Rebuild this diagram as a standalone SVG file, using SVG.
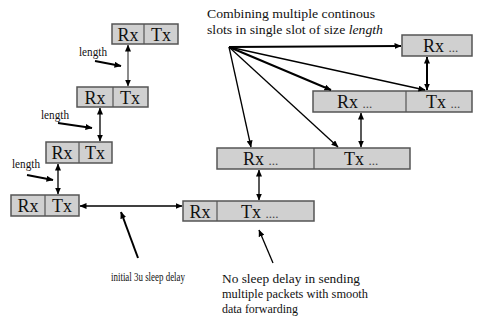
<svg xmlns="http://www.w3.org/2000/svg" width="478" height="320" viewBox="0 0 478 320">
<defs>
<marker id="ah" markerWidth="7" markerHeight="6" refX="6.5" refY="3" orient="auto-start-reverse" markerUnits="userSpaceOnUse"><path d="M0,0 L7,3 L0,6 Z" fill="#000"/></marker>
<style>
.box{fill:#d0d0d0;stroke:#555;stroke-width:1.5}
.div{stroke:#555;stroke-width:1.2}
.bt{font-family:"Liberation Serif",serif;font-size:18px;fill:#111}
.dots{font-size:13px;fill:#444}
.lbl{font-family:"Liberation Serif",serif;font-size:13px;fill:#111}
.c{stroke:#000;stroke-width:1.3;fill:none}
.cb{stroke:#000;stroke-width:2;fill:none}
.cg{stroke:#666;stroke-width:1.5;fill:none}
</style>
</defs>
<rect width="478" height="320" fill="#fff"/>
<g id="box1"><rect class="box" x="112" y="24" width="66" height="20"/><line class="div" x1="144" y1="24" x2="144" y2="44"/><text class="bt" x="128" y="41" text-anchor="middle">Rx</text><text class="bt" x="161" y="41" text-anchor="middle">Tx</text></g>
<g id="box2"><rect class="box" x="77" y="87" width="71" height="20"/><line class="div" x1="113" y1="87" x2="113" y2="107"/><text class="bt" x="95" y="104" text-anchor="middle">Rx</text><text class="bt" x="130" y="104" text-anchor="middle">Tx</text></g>
<g id="box3"><rect class="box" x="46" y="142" width="66" height="21"/><line class="div" x1="79" y1="142" x2="79" y2="163"/><text class="bt" x="62" y="159" text-anchor="middle">Rx</text><text class="bt" x="95" y="159" text-anchor="middle">Tx</text></g>
<g id="box4"><rect class="box" x="11" y="195" width="68" height="21"/><line class="div" x1="45" y1="195" x2="45" y2="216"/><text class="bt" x="28" y="212" text-anchor="middle">Rx</text><text class="bt" x="62" y="212" text-anchor="middle">Tx</text></g>
<g id="box5"><rect class="box" x="183" y="201" width="131" height="20"/><line class="div" x1="217" y1="201" x2="217" y2="221"/><text class="bt" x="200" y="218" text-anchor="middle">Rx</text><text class="bt" x="241" y="218">Tx <tspan class="dots">....</tspan></text></g>
<g id="box6"><rect class="box" x="217" y="148" width="193" height="21"/><line class="div" x1="314" y1="148" x2="314" y2="169"/><text class="bt" x="243" y="165">Rx <tspan class="dots">...</tspan></text><text class="bt" x="344" y="165">Tx <tspan class="dots">...</tspan></text></g>
<g id="box7"><rect class="box" x="313" y="91" width="159" height="21"/><line class="div" x1="406" y1="91" x2="406" y2="112"/><text class="bt" x="337" y="108">Rx <tspan class="dots">...</tspan></text><text class="bt" x="426" y="108">Tx <tspan class="dots">...</tspan></text></g>
<g id="box8"><rect class="box" x="402" y="35" width="70" height="21"/><text class="bt" x="423" y="52">Rx <tspan class="dots">...</tspan></text></g>
<g id="labels">
<text class="lbl" x="79" y="56" textLength="28" lengthAdjust="spacingAndGlyphs">length</text>
<text class="lbl" x="41" y="119" textLength="28" lengthAdjust="spacingAndGlyphs">length</text>
<text class="lbl" x="12" y="168" textLength="28" lengthAdjust="spacingAndGlyphs">length</text>
<text class="lbl" x="207" y="18" textLength="168" lengthAdjust="spacingAndGlyphs">Combining multiple continous</text>
<text class="lbl" x="207" y="34" textLength="176" lengthAdjust="spacingAndGlyphs">slots in single slot of size <tspan font-style="italic">length</tspan></text>
<text class="lbl" x="111" y="281" textLength="74" lengthAdjust="spacingAndGlyphs">initial 3u sleep delay</text>
<text class="lbl" x="222" y="283" textLength="138" lengthAdjust="spacingAndGlyphs">No sleep delay in sending</text>
<text class="lbl" x="222" y="298" textLength="146" lengthAdjust="spacingAndGlyphs">multiple packets with smooth</text>
<text class="lbl" x="222" y="313" textLength="76" lengthAdjust="spacingAndGlyphs">data forwarding</text>
</g>
<g id="connectors">
<line class="cg" x1="128" y1="45" x2="128" y2="86" marker-start="url(#ah)" marker-end="url(#ah)"/>
<line class="c" x1="100" y1="108" x2="100" y2="141" marker-start="url(#ah)" marker-end="url(#ah)"/>
<line class="c" x1="58" y1="164" x2="58" y2="194" marker-start="url(#ah)" marker-end="url(#ah)"/>
<line class="c" x1="80" y1="206" x2="182" y2="206" marker-start="url(#ah)" marker-end="url(#ah)"/>
<line class="c" x1="259" y1="170" x2="259" y2="200" marker-start="url(#ah)" marker-end="url(#ah)"/>
<line class="c" x1="361" y1="113" x2="361" y2="147" marker-start="url(#ah)" marker-end="url(#ah)"/>
<line class="cb" x1="427" y1="57" x2="427" y2="90" marker-start="url(#ah)" marker-end="url(#ah)"/>
<line class="cb" x1="229" y1="47" x2="401" y2="46" marker-end="url(#ah)"/>
<line class="c" x1="229" y1="47" x2="425" y2="90" marker-end="url(#ah)"/>
<line class="cb" x1="229" y1="47" x2="331" y2="90" marker-end="url(#ah)"/>
<line class="c" x1="229" y1="47" x2="338" y2="147" marker-end="url(#ah)"/>
<line class="c" x1="229" y1="47" x2="251" y2="147" marker-end="url(#ah)"/>
<line class="cb" x1="95" y1="61" x2="121" y2="66" marker-end="url(#ah)"/>
<line class="cb" x1="58" y1="123" x2="92" y2="128" marker-end="url(#ah)"/>
<line class="cb" x1="27" y1="175" x2="53" y2="180" marker-end="url(#ah)"/>
<line class="cb" x1="138" y1="258" x2="121" y2="212" marker-end="url(#ah)"/>
<line class="c" x1="273" y1="263" x2="259" y2="230" marker-end="url(#ah)"/>
</g>
</svg>
